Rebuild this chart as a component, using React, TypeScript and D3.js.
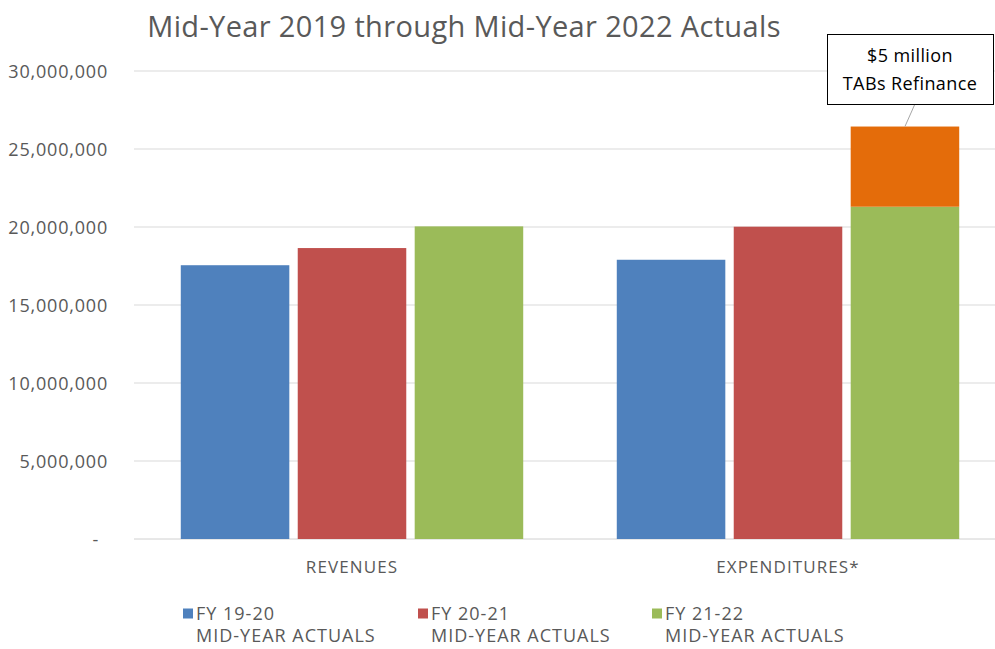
import React from "react";
import * as d3 from "d3";

const categories = ["REVENUES", "EXPENDITURES*"];
const seriesNames = ["FY 19-20", "FY 20-21", "FY 21-22"];
const seriesSub = ["MID-YEAR ACTUALS", "MID-YEAR ACTUALS", "MID-YEAR ACTUALS"];
const fy1920 = [17550000, 17900000];
const fy2021 = [18650000, 20020000];
const fy2122 = [20040000, 21300000];
const refinance = [0, 5140000];
const yTicks = [0, 5000000, 10000000, 15000000, 20000000, 25000000, 30000000];
const colors = ["#4F81BD", "#C0504D", "#9BBB59"];
const refColor = "#E46C0A";

const W = 995;
const H = 649;
const FONT = "'Open Sans', 'Liberation Sans', sans-serif";

export default function App() {
  const series = [fy1920, fy2021, fy2122];
  const x0 = d3.scaleBand<string>().domain(categories).range([134, 1006]).paddingInner(0).paddingOuter(0);
  const x1 = d3.scaleBand<string>().domain(seriesNames).range([0, x0.bandwidth()]).paddingInner(0.072).paddingOuter(0.4);
  const y = d3.scaleLinear().domain([0, 30000000]).range([539, 71]);
  const fmt = d3.format(",");

  const refTop = y(fy2122[1] + refinance[1]);
  const refX = (x0(categories[1]) ?? 0) + (x1(seriesNames[2]) ?? 0) + x1.bandwidth() / 2;

  return (
    <svg width={W} height={H} style={{ position: "absolute", left: 0, top: 0, background: "#fff" }} fontFamily={FONT}>
      <rect x={0} y={0} width={W} height={H} fill="#fff" />
      <text x={464} y={37} textAnchor="middle" fontSize={29} letterSpacing={0.35} fill="#595959">
        Mid-Year 2019 through Mid-Year 2022 Actuals
      </text>
      {yTicks.map((t) => (
        <g key={t}>
          <line x1={134} x2={W} y1={y(t)} y2={y(t)} stroke={t === 0 ? "#D0D0D0" : "#D9D9D9"} strokeWidth={1} />
          <text x={t === 0 ? 99 : 108} y={y(t) + 6.5} textAnchor="end" fontSize={18} letterSpacing={0.8} fill="#595959">
            {t === 0 ? "-" : fmt(t)}
          </text>
        </g>
      ))}
      {categories.map((c, ci) => (
        <g key={c}>
          {series.map((s, si) => {
            const bx = (x0(c) ?? 0) + (x1(seriesNames[si]) ?? 0);
            return (
              <rect key={si} x={bx} y={y(s[ci])} width={x1.bandwidth()} height={y(0) - y(s[ci])} fill={colors[si]} />
            );
          })}
          {refinance[ci] > 0 && (
            <rect
              x={(x0(c) ?? 0) + (x1(seriesNames[2]) ?? 0)}
              y={y(fy2122[ci] + refinance[ci])}
              width={x1.bandwidth()}
              height={y(fy2122[ci]) - y(fy2122[ci] + refinance[ci])}
              fill={refColor}
            />
          )}
          <text x={(x0(c) ?? 0) + x0.bandwidth() / 2} y={573} textAnchor="middle" fontSize={17} letterSpacing={1.1} fill="#595959">
            {c}
          </text>
        </g>
      ))}
      <line x1={refX + 10} y1={104} x2={refX} y2={refTop} stroke="#A6A6A6" strokeWidth={1} />
      <rect x={827.5} y={34.5} width={166} height={70} fill="#fff" stroke="#000" strokeWidth={1} />
      <text x={910} y={62} textAnchor="middle" fontSize={18} letterSpacing={0.4} fill="#000">$5 million</text>
      <text x={910} y={90} textAnchor="middle" fontSize={18} letterSpacing={0.4} fill="#000">TABs Refinance</text>
      {seriesNames.map((n, i) => {
        const lx = [183, 418, 652][i];
        return (
          <g key={n}>
            <rect x={lx} y={608.5} width={10} height={10} fill={colors[i]} />
            <text x={lx + 13} y={620} fontSize={18} letterSpacing={1} fill="#595959">{n}</text>
            <text x={lx + 13} y={642} fontSize={18} letterSpacing={1} fill="#595959">{seriesSub[i]}</text>
          </g>
        );
      })}
    </svg>
  );
}
